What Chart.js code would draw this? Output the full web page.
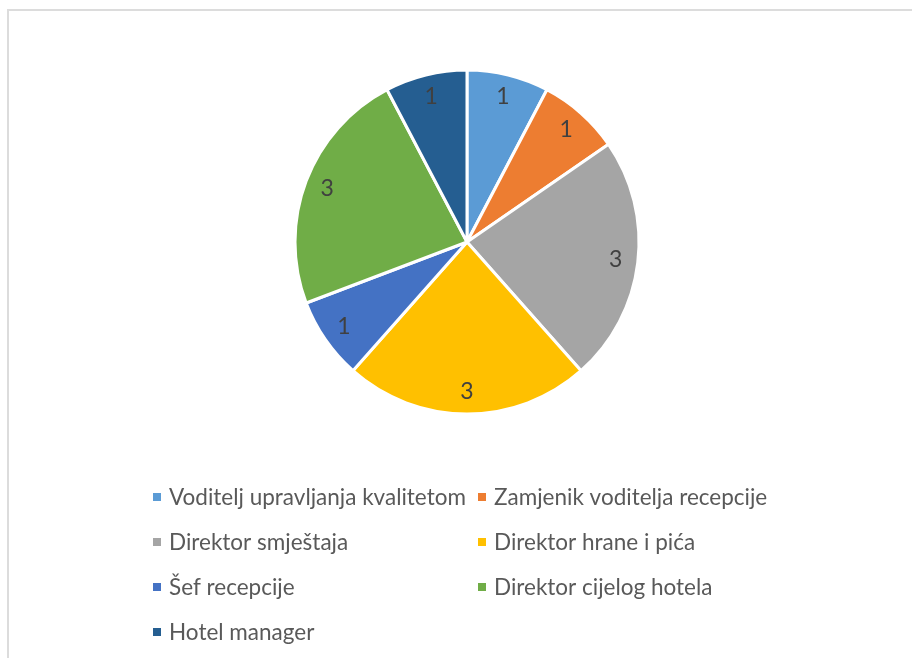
<!DOCTYPE html>
<html>
<head>
<meta charset="utf-8">
<script src="https://cdn.jsdelivr.net/npm/chart.js@4"></script>
<style>
  html, body { margin: 0; padding: 0; background: #ffffff; }
  #wrap { position: relative; width: 912px; height: 658px; overflow: hidden; }
  #frame { position: absolute; left: 7px; top: 9px; width: 960px; height: 700px; border: 2px solid #dcdcdc; box-sizing: border-box; }
  #pie { position: absolute; left: 0; top: 0; }
</style>
</head>
<body>
<div id="wrap">
  <div id="frame"></div>
  <canvas id="pie" width="912" height="658"></canvas>
</div>
<script>
const categories = [
  "Voditelj upravljanja kvalitetom",
  "Zamjenik voditelja recepcije",
  "Direktor smještaja",
  "Direktor hrane i pića",
  "Šef recepcije",
  "Direktor cijelog hotela",
  "Hotel manager"
];
const counts = [1, 1, 3, 3, 1, 3, 1];
const slice_colours = ["#5B9BD5", "#ED7D31", "#A5A5A5", "#FFC000", "#4472C4", "#70AD47", "#255E91"];

const font_family = "Lato, 'Liberation Sans', Arial, sans-serif";

// value labels inside each slice
const sliceLabelPlugin = {
  id: "sliceLabels",
  afterDatasetsDraw(chart) {
    const ctx = chart.ctx;
    const meta = chart.getDatasetMeta(0);
    ctx.save();
    ctx.font = "23px " + font_family;
    ctx.fillStyle = "#404040";
    ctx.textAlign = "center";
    ctx.textBaseline = "middle";
    meta.data.forEach((arc, i) => {
      const p = arc.getProps(["x", "y", "startAngle", "endAngle", "outerRadius"], true);
      const mid = (p.startAngle + p.endAngle) / 2;
      const r = p.outerRadius * 0.87;
      ctx.fillText(String(chart.data.datasets[0].data[i]), p.x + Math.cos(mid) * r, p.y + Math.sin(mid) * r);
    });
    ctx.restore();
  }
};

// two-column legend under the pie
const gridLegendPlugin = {
  id: "gridLegend",
  afterDraw(chart) {
    const ctx = chart.ctx;
    const colX = [153, 478];
    const rowY = [497, 542, 587, 632];
    ctx.save();
    ctx.font = "22.5px " + font_family;
    ctx.textBaseline = "middle";
    chart.data.labels.forEach((label, i) => {
      const x = colX[i % 2];
      const y = rowY[Math.floor(i / 2)];
      ctx.fillStyle = chart.data.datasets[0].backgroundColor[i];
      ctx.fillRect(x, y - 4, 8, 8);
      ctx.fillStyle = "#595959";
      ctx.fillText(label, x + 16, y + 1);
    });
    ctx.restore();
  }
};

new Chart(document.getElementById("pie").getContext("2d"), {
  type: "pie",
  data: {
    labels: categories,
    datasets: [{
      data: counts,
      backgroundColor: slice_colours,
      borderColor: "#ffffff",
      borderWidth: 3
    }]
  },
  options: {
    responsive: false,
    animation: false,
    radius: 172,
    layout: { padding: { top: 70, bottom: 244, left: 22, right: 0 } },
    plugins: {
      legend: { display: false },
      tooltip: { enabled: false }
    }
  },
  plugins: [sliceLabelPlugin, gridLegendPlugin]
});
</script>
</body>
</html>
